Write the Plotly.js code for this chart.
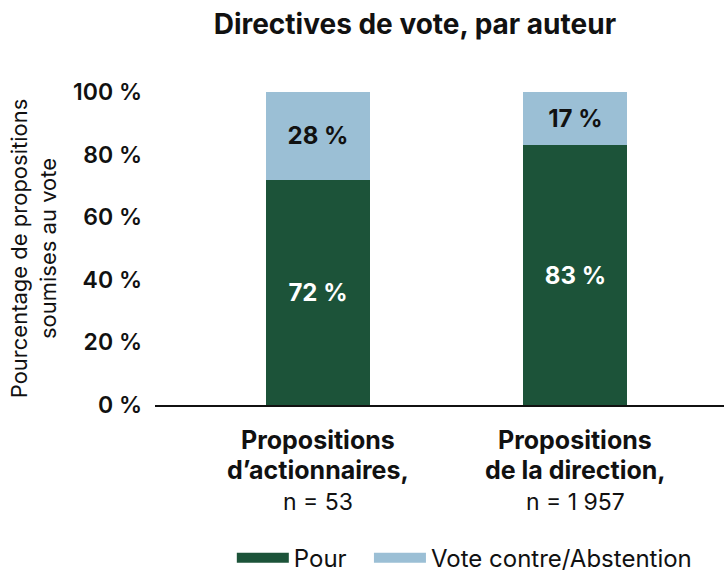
<!DOCTYPE html>
<html><head><meta charset="utf-8">
<script src="https://cdn.plot.ly/plotly-3.0.1.min.js"></script>
<style>html,body{margin:0;padding:0;background:#fff}</style>
</head><body>
<div id="chart" style="width:724px;height:572px"></div>
<script>
const categories = ["actionnaires", "direction"];
const catLine1 = ["Propositions", "Propositions"];
const catLine2 = ["d’actionnaires,", "de la direction,"];
const catLine3 = ["n = 53", "n = 1 957"];
const pour = [72, 83];
const contre = [28, 17];
const seriesNames = ["Pour", "Vote contre/Abstention"];
const colors = ["#1c5339", "#9bbfd5"];
const yTicks = [0, 20, 40, 60, 80, 100];

const FONT = "Inter, 'Noto Sans', sans-serif";
const traces = [
  {type: "bar", x: categories, y: pour, name: seriesNames[0], marker: {color: colors[0]},
   width: 0.404, text: pour.map(v => v + " %"), textposition: "inside", insidetextanchor: "middle",
   textfont: {color: "#ffffff", size: 24, family: FONT, weight: 700}, constraintext: "none",
   showlegend: false, hoverinfo: "skip"},
  {type: "bar", x: categories, y: contre, name: seriesNames[1], marker: {color: colors[1]},
   width: 0.404, text: contre.map(v => v + " %"), textposition: "inside", insidetextanchor: "middle",
   textfont: {color: "#111111", size: 24, family: FONT, weight: 700}, constraintext: "none",
   showlegend: false, hoverinfo: "skip"},
  {type: "scatter", mode: "lines", x: [null], y: [null], name: seriesNames[0], legend: "legend",
   line: {color: colors[0], width: 15}},
  {type: "scatter", mode: "lines", x: [null], y: [null], name: seriesNames[1], legend: "legend2",
   line: {color: colors[1], width: 15}}
];

const annotations = [];
categories.forEach((c, i) => {
  [[catLine1[i], 700, 25, -0.112], [catLine2[i], 700, 25, -0.208], [catLine3[i], 400, 23, -0.31]].forEach(([t, w, s, y]) => {
    annotations.push({x: c, xref: "x", y: y, yref: "paper", text: t, showarrow: false,
      xanchor: "center", yanchor: "middle",
      font: {family: FONT, size: s, color: "#111111", weight: w}});
  });
});

const legendBase = {orientation: "h", xanchor: "left", y: 0.024, yref: "container", yanchor: "middle",
  font: {family: FONT, size: 24, color: "#111111"}, bgcolor: "rgba(0,0,0,0)", itemwidth: 52};

const layout = {
  width: 724, height: 572,
  margin: {l: 155, r: 0, t: 92, b: 167, autoexpand: false},
  paper_bgcolor: "#ffffff", plot_bgcolor: "#ffffff",
  barmode: "stack",
  font: {family: FONT, color: "#111111"},
  title: {text: "Directives de vote, par auteur", x: 0.573, xanchor: "center", y: 0.957, yanchor: "middle",
          font: {family: FONT, size: 28, weight: 700, color: "#111111"}},
  xaxis: {type: "category", range: [-0.633, 1.577], showticklabels: false, showgrid: false,
          showline: true, linecolor: "#111111", linewidth: 2, ticks: "", zeroline: false, fixedrange: true},
  yaxis: {range: [0, 100], tickvals: yTicks, ticktext: yTicks.map(v => v + " %"), showgrid: false,
          zeroline: false, showline: false, ticks: "", ticklabelstandoff: 12, automargin: false,
          tickfont: {family: FONT, size: 23, weight: 600, color: "#111111"},
          title: {text: "Pourcentage de propositions<br>soumises au vote", standoff: 10,
                  font: {family: FONT, size: 22, color: "#111111"}}},
  legend: Object.assign({}, legendBase, {x: 0.135}),
  legend2: Object.assign({}, legendBase, {x: 0.376}),
  annotations: annotations,
  showlegend: true
};
Plotly.newPlot("chart", traces, layout, {displayModeBar: false, staticPlot: true});
</script>
</body></html>
